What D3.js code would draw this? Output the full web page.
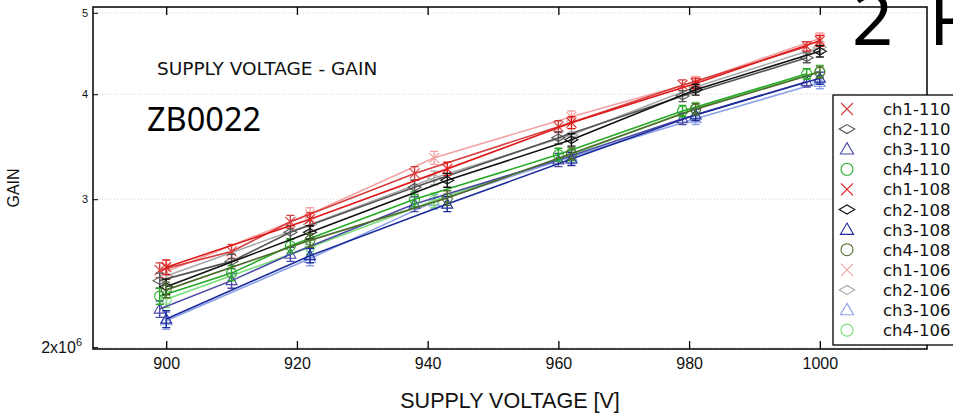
<!DOCTYPE html>
<html>
<head>
<meta charset="utf-8">
<script src="https://cdn.jsdelivr.net/npm/d3@7"></script>
<style>
  body { margin: 0; background: #fff; }
  svg { display: block; }
  .tick text { font-family: "Liberation Sans", Arial, sans-serif; }
</style>
</head>
<body>
<div id="chart"></div>
<script>
// supply voltages [V] for each measurement set
const volt110 = [899, 910, 919, 938, 960, 979, 998];
const volt108 = [900, 922, 943, 962, 981, 1000];
const volt106 = [900, 922, 941, 962, 981, 1000];

// gain values (x10^6)
const ch1_110 = [2.47, 2.60, 2.82, 3.22, 3.66, 4.10, 4.56];
const ch2_110 = [2.40, 2.53, 2.74, 3.10, 3.55, 3.98, 4.42];
const ch3_110 = [2.22, 2.40, 2.58, 2.96, 3.34, 3.74, 4.14];
const ch4_110 = [2.30, 2.45, 2.64, 3.00, 3.39, 3.82, 4.23];
const ch1_108 = [2.49, 2.84, 3.26, 3.70, 4.12, 4.63];
const ch2_108 = [2.36, 2.74, 3.16, 3.53, 4.05, 4.50];
const ch3_108 = [2.16, 2.57, 2.96, 3.35, 3.78, 4.18];
const ch4_108 = [2.34, 2.68, 3.01, 3.40, 3.84, 4.25];
const ch1_106 = [2.46, 2.88, 3.36, 3.76, 4.14, 4.66];
const ch2_106 = [2.43, 2.80, 3.18, 3.58, 4.08, 4.55];
const ch3_106 = [2.15, 2.55, 2.98, 3.37, 3.74, 4.13];
const ch4_106 = [2.28, 2.63, 2.99, 3.39, 3.85, 4.26];

// error (same units, half width)
const err110 = [0.05, 0.05, 0.05, 0.06, 0.06, 0.06, 0.06];
const err108 = [0.05, 0.05, 0.06, 0.06, 0.06, 0.07];
const err106 = [0.05, 0.05, 0.06, 0.06, 0.06, 0.07];

const xTicks = [900, 920, 940, 960, 980, 1000];
const yTicks = [2, 3, 4, 5];

const seriesNames = ["ch1-110", "ch2-110", "ch3-110", "ch4-110",
                     "ch1-108", "ch2-108", "ch3-108", "ch4-108",
                     "ch1-106", "ch2-106", "ch3-106", "ch4-106"];
const seriesColors = ["#d63c3c", "#555555", "#4a4aa6", "#26aa26",
                      "#e01a1a", "#111111", "#1c2c9c", "#4e6b2c",
                      "#f2a2a2", "#a8a8a8", "#8ca2e8", "#7ade7a"];
const seriesShapes = ["cross", "diamond", "triangle", "circle",
                      "cross", "diamond", "triangle", "circle",
                      "cross", "diamond", "triangle", "circle"];

const seriesVolts = [volt110, volt110, volt110, volt110,
                     volt108, volt108, volt108, volt108,
                     volt106, volt106, volt106, volt106];
const seriesGains = [ch1_110, ch2_110, ch3_110, ch4_110,
                     ch1_108, ch2_108, ch3_108, ch4_108,
                     ch1_106, ch2_106, ch3_106, ch4_106];
const seriesErrs = [err110, err110, err110, err110,
                    err108, err108, err108, err108,
                    err106, err106, err106, err106];

const W = 953, H = 414;
const plotL = 93, plotR = 927, plotT = 7, plotB = 349;

const svg = d3.select("#chart").append("svg")
    .attr("width", W)
    .attr("height", H);

const x = d3.scaleLinear().domain([888.8, 1016.4]).range([plotL, plotR]);
const y = d3.scaleLog().domain([1.99, 5.08]).range([plotB, plotT]);

// dotted grid
svg.append("g").selectAll("line")
    .data(yTicks)
    .enter().append("line")
    .attr("x1", plotL).attr("x2", plotR)
    .attr("y1", d => y(d)).attr("y2", d => y(d))
    .attr("stroke", "#d4d4d4")
    .attr("stroke-dasharray", "1,2");

// plot box
svg.append("rect")
    .attr("x", plotL).attr("y", plotT)
    .attr("width", plotR - plotL).attr("height", plotB - plotT)
    .attr("fill", "none")
    .attr("stroke", "#000")
    .attr("stroke-width", 1.5);

// axes
let xAxis = svg.append("g")
    .attr("transform", "translate(0," + plotB + ")")
    .call(d3.axisBottom(x).tickValues(xTicks).tickFormat(d3.format("d"))
        .tickSizeInner(-8).tickSizeOuter(0).tickPadding(9));
xAxis.select(".domain").remove();
xAxis.selectAll("text").style("font-size", "16px").attr("fill", "#111");
xAxis.selectAll("line").attr("stroke-width", 1.3);

let xTop = svg.append("g")
    .attr("transform", "translate(0," + plotT + ")")
    .call(d3.axisTop(x).tickValues(xTicks).tickSizeInner(-8).tickSizeOuter(0).tickFormat(""));
xTop.select(".domain").remove();
xTop.selectAll("line").attr("stroke-width", 1.3);

let yAxis = svg.append("g")
    .attr("transform", "translate(" + plotL + ",0)")
    .call(d3.axisLeft(y).tickValues(yTicks).tickSizeInner(-5).tickSizeOuter(0).tickPadding(5)
        .tickFormat(d => d === 2 ? "2x10" : d));
yAxis.select(".domain").remove();
yAxis.selectAll("text").style("font-size", "11px").attr("fill", "#111");
yAxis.selectAll(".tick")
    .filter(d => d === 2)
    .select("text")
    .style("font-size", "16px")
    .attr("x", -11)
    .append("tspan")
    .attr("dy", "-0.6em")
    .style("font-size", "11px")
    .text("6");

// axis titles
svg.append("text")
    .attr("x", 510).attr("y", 408)
    .attr("text-anchor", "middle")
    .attr("font-family", "Liberation Sans, Arial, sans-serif")
    .attr("font-size", 21.5)
    .attr("fill", "#111")
    .text("SUPPLY VOLTAGE [V]");

svg.append("text")
    .attr("transform", "translate(19,188) rotate(-90)")
    .attr("text-anchor", "middle")
    .attr("font-family", "Liberation Sans, Arial, sans-serif")
    .attr("font-size", 16)
    .attr("fill", "#111")
    .text("GAIN");

// inner labels
svg.append("text")
    .attr("x", 157).attr("y", 75)
    .attr("font-family", "DejaVu Sans, sans-serif")
    .attr("font-size", 18.5)
    .attr("fill", "#111")
    .text("SUPPLY VOLTAGE - GAIN");

svg.append("text")
    .attr("x", 147).attr("y", 131)
    .attr("font-family", "Noto Sans, sans-serif")
    .attr("font-size", 32.5)
    .attr("fill", "#000")
    .text("ZB0022");

svg.append("text")
    .attr("x", 852).attr("y", 45)
    .attr("font-family", "Noto Sans, sans-serif")
    .attr("font-size", 72)
    .attr("fill", "#000")
    .text("2");

svg.append("text")
    .attr("x", 929).attr("y", 45)
    .attr("font-family", "Noto Sans, sans-serif")
    .attr("font-size", 72)
    .attr("fill", "#000")
    .text("R");

// markers
function drawMarker(g, shape, cx, cy, color, s) {
    if (shape === "cross") {
        g.append("path")
            .attr("d", `M${cx - s},${cy - s}L${cx + s},${cy + s}M${cx - s},${cy + s}L${cx + s},${cy - s}`)
            .attr("stroke", color).attr("fill", "none").attr("stroke-width", 1.1);
    } else if (shape === "diamond") {
        g.append("path")
            .attr("d", `M${cx - s * 1.3},${cy}L${cx},${cy - s * 0.75}L${cx + s * 1.3},${cy}L${cx},${cy + s * 0.75}Z`)
            .attr("stroke", color).attr("fill", "none").attr("stroke-width", 1.1);
    } else if (shape === "triangle") {
        g.append("path")
            .attr("d", `M${cx},${cy - s * 1.1}L${cx + s * 1.1},${cy + s * 0.8}L${cx - s * 1.1},${cy + s * 0.8}Z`)
            .attr("stroke", color).attr("fill", "none").attr("stroke-width", 1.1);
    } else {
        g.append("circle")
            .attr("cx", cx).attr("cy", cy).attr("r", s)
            .attr("stroke", color).attr("fill", "none").attr("stroke-width", 1.1);
    }
}

const line = d3.line().x(d => x(d[0])).y(d => y(d[1]));

// draw light series first, dark ones on top
const drawOrder = [8, 9, 10, 11, 0, 1, 2, 3, 4, 5, 6, 7];
drawOrder.forEach(i => {
    const color = seriesColors[i];
    const pts = seriesVolts[i].map((v, j) => [v, seriesGains[i][j], seriesErrs[i][j]]);
    const g = svg.append("g").attr("class", "series");
    g.append("path")
        .datum(pts)
        .attr("d", line)
        .attr("fill", "none")
        .attr("stroke", color)
        .attr("stroke-width", 1.6);
    pts.forEach(p => {
        const cx = x(p[0]);
        const y1 = y(p[1] + p[2]), y0 = y(p[1] - p[2]);
        g.append("path")
            .attr("d", `M${cx},${y1}L${cx},${y0}M${cx - 4},${y1}L${cx + 4},${y1}M${cx - 4},${y0}L${cx + 4},${y0}`)
            .attr("stroke", color).attr("fill", "none").attr("stroke-width", 1.4);
        drawMarker(g, seriesShapes[i], cx, y(p[1]), color, 5);
    });
});

// legend
const legend = svg.append("g").attr("transform", "translate(833,95)");
legend.append("rect")
    .attr("x", 0).attr("y", 0)
    .attr("width", 140).attr("height", 250)
    .attr("fill", "#fff")
    .attr("stroke", "#000")
    .attr("stroke-width", 1.3);
seriesNames.forEach((name, i) => {
    const ly = 14 + i * 20.1;
    drawMarker(legend, seriesShapes[i], 14, ly, seriesColors[i], 6);
    legend.append("text")
        .attr("x", 50).attr("y", ly + 6)
        .attr("font-family", "DejaVu Sans, sans-serif")
        .attr("font-size", 16.5)
        .attr("fill", "#111")
        .text(name);
});
</script>
</body>
</html>
